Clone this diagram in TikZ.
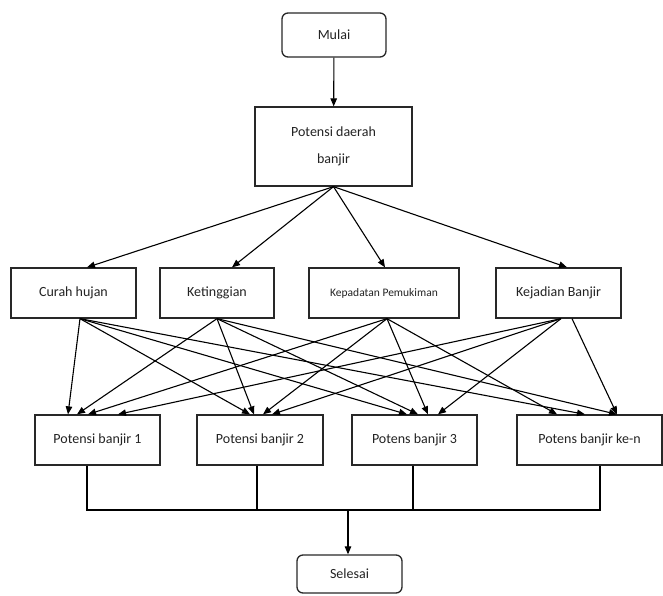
\documentclass[tikz,border=0pt]{standalone}
\usepackage{fontspec}
\setmainfont{Carlito}
\usepackage{tikz}
\usetikzlibrary{arrows.meta,positioning}
\usepackage{xcolor}
\definecolor{boxline}{RGB}{40, 40, 40}
\definecolor{textgray}{RGB}{35, 35, 35}

\tikzset{
    box/.style={draw=boxline, line width=1.3pt, fill=white, inner sep=0pt,
        minimum height=50pt, text=textgray, font=\fontsize{14}{17}\selectfont},
    termbox/.style={box, rounded corners=6pt},
    arr/.style={-{Triangle[length=8pt,width=6.5pt]}, line width=1.1pt, draw=black},
    wire/.style={line width=1.1pt, draw=black}
}

\begin{document}
\begin{tikzpicture}[x=1pt, y=-1pt]
    \useasboundingbox (0,0) rectangle (663,596);

    % Start and first step
    \node[termbox, minimum width=104pt, minimum height=44pt] (mulai) at (334,35) {Mulai};
    \node[box, minimum width=157pt, minimum height=79pt, align=center,
        font=\fontsize{14}{27}\selectfont] (daerah) at (333.5,146.5) {Potensi daerah\\banjir};

    % Factors
    \node[box, minimum width=125pt] (curah) at (73.5,293) {Curah hujan};
    \node[box, minimum width=114pt] (tinggi) at (217,293) {Ketinggian};
    \node[box, minimum width=150pt, font=\fontsize{11.5}{14}\selectfont] (padat) at (384,293) {Kepadatan Pemukiman};
    \node[box, minimum width=125pt] (kejadian) at (558.5,293) {Kejadian Banjir};

    % Results
    \node[box, minimum width=125pt] (pb1) at (97.5,440) {Potensi banjir 1};
    \node[box, minimum width=126pt] (pb2) at (260,440) {Potensi banjir 2};
    \node[box, minimum width=125pt] (pb3) at (414.5,440) {Potens banjir 3};
    \node[box, minimum width=145pt] (pbn) at (589.5,440) {Potens banjir ke-n};

    % End
    \node[termbox, minimum width=105pt, minimum height=38pt] (selesai) at (349.5,574) {Selesai};
    \coordinate (bus) at (348,510);

    % Top arrows
    \draw[arr] (mulai) -- (daerah);
    \draw[arr] (daerah.south) -- ([xshift=13.5pt]curah.north);
    \draw[arr] (daerah.south) -- ([xshift=15pt]tinggi.north);
    \draw[arr] (daerah.south) -- ([xshift=1pt]padat.north);
    \draw[arr] (daerah.south) -- ([xshift=8.5pt]kejadian.north);

    % Curah hujan to all results
    \draw[arr] ([xshift=6.5pt]curah.south) -- ([xshift=-29.5pt]pb1.north);
    \draw[arr] ([xshift=6.5pt]curah.south) -- ([xshift=-10pt]pb2.north);
    \draw[arr] ([xshift=6.5pt]curah.south) -- ([xshift=-7.5pt]pb3.north);
    \draw[arr] ([xshift=6.5pt]curah.south) -- ([xshift=-4.5pt]pbn.north);

    % Ketinggian to all results
    \draw[arr] (tinggi.south) -- ([xshift=-20.5pt]pb1.north);
    \draw[arr] (tinggi.south) -- ([xshift=-6pt]pb2.north);
    \draw[arr] (tinggi.south) -- ([xshift=3.5pt]pb3.north);
    \draw[arr] (tinggi.south) -- ([xshift=27.5pt]pbn.north);

    % Kepadatan to all results
    \draw[arr] ([xshift=3pt]padat.south) -- ([xshift=-9.5pt]pb1.north);
    \draw[arr] ([xshift=3pt]padat.south) -- ([xshift=3pt]pb2.north);
    \draw[arr] ([xshift=3pt]padat.south) -- ([xshift=13.5pt]pb3.north);
    \draw[arr] ([xshift=3pt]padat.south) -- ([xshift=-32.5pt]pbn.north);

    % Kejadian to all results
    \draw[arr] ([xshift=2.5pt]kejadian.south) -- ([xshift=20.5pt]pb1.north);
    \draw[arr] ([xshift=2.5pt]kejadian.south) -- ([xshift=12pt]pb2.north);
    \draw[arr] ([xshift=2.5pt]kejadian.south) -- ([xshift=23.5pt]pb3.north);
    \draw[arr] ([xshift=13.5pt]kejadian.south) -- ([xshift=27.5pt]pbn.north);

    % Joining lines
    \draw[wire] ([xshift=-10.5pt]pb1.south) |- (bus) -| ([xshift=10.5pt]pbn.south);
    \draw[wire] ([xshift=-3pt]pb2.south) -- ([xshift=-3pt]pb2.south |- bus);
    \draw[wire] ([xshift=-1.5pt]pb3.south) -- ([xshift=-1.5pt]pb3.south |- bus);
    \draw[arr] (bus) -- (bus |- selesai.north);
\end{tikzpicture}
\end{document}
